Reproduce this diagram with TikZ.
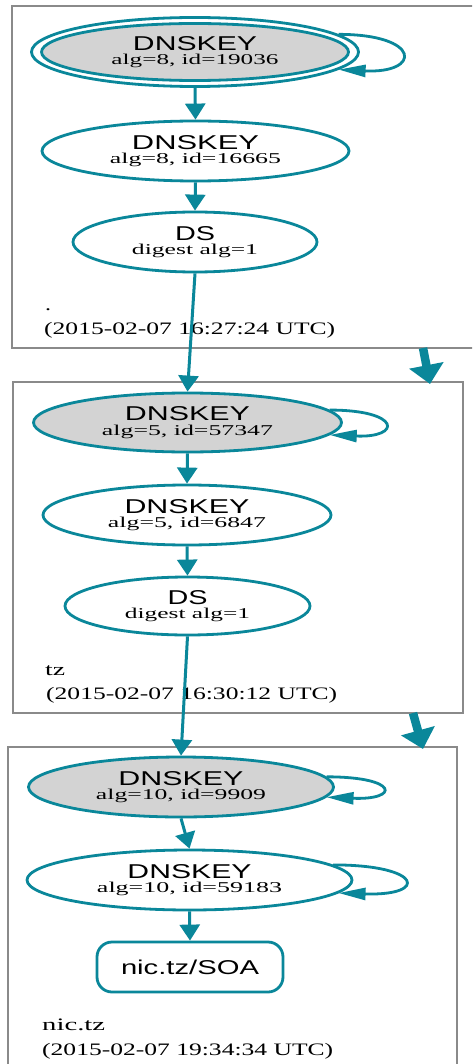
\documentclass[tikz,border=0pt]{standalone}
\usepackage{fontspec}
\usepackage{graphicx}
\setmainfont{Liberation Serif}
\setsansfont{Liberation Sans}
\usetikzlibrary{arrows.meta,shapes.geometric}
\definecolor{tealc}{HTML}{0A879A}
\definecolor{boxgray}{HTML}{8A8A8A}
\definecolor{keyfill}{HTML}{D3D3D3}
\newcommand{\hsans}[2]{\resizebox{#1pt}{\height}{\fontsize{20}{20}\sffamily #2}}
\newcommand{\hserif}[2]{\resizebox{#1pt}{\height}{\fontsize{15}{14.5}\rmfamily #2}}
\newcommand{\hlab}[2]{\resizebox{#1pt}{\height}{\fontsize{17.5}{18}\rmfamily #2}}
\tikzset{
  zonebox/.style={draw=boxgray, line width=1.4pt, rectangle, inner sep=0pt},
  rr/.style={ellipse, draw=tealc, line width=2.8pt, inner sep=0pt, align=center,
     font=\fontsize{15}{14.5}\selectfont},
  keyrr/.style={rr, fill=keyfill},
  outerrr/.style={ellipse, draw=tealc, line width=2.8pt, inner sep=0pt},
  soabox/.style={rectangle, rounded corners=15pt, draw=tealc, line width=2.8pt, inner sep=0pt},
  edgec/.style={draw=tealc, line width=3pt, -{Triangle[width=20pt,length=16pt]}},
  loopc/.style={draw=tealc, line width=2.8pt, -{Triangle[width=12pt,length=27pt]}},
  zonearrow/.style={draw=tealc, line width=8.5pt, -{Triangle[width=34pt,length=19pt]}},
  lab/.style={anchor=base west, inner sep=0pt}
}
\begin{document}
\begin{tikzpicture}[x=1pt,y=-1pt]
\path[use as bounding box, clip] (0,0) rectangle (472,1064);
\fill[white] (0,0) rectangle (472,1064);
% zone boxes
\node[zonebox, minimum width=473pt, minimum height=342pt] (z1) at (248.5,177) {};
\node[zonebox, minimum width=450pt, minimum height=331pt] (z2) at (238,547.5) {};
\node[zonebox, minimum width=449pt, minimum height=328pt] (z3) at (232.5,911) {};
% zone 1 (root)
\node[outerrr, minimum width=327pt, minimum height=69pt] (k1o) at (195,52) {};
\node[keyrr, minimum width=307pt, minimum height=57pt] (k1) at (195,52) {\hsans{124}{DNSKEY}\\\hserif{167}{alg=8, id=19036}};
\node[rr, minimum width=307pt, minimum height=60pt] (k2) at (195.5,151) {\hsans{127}{DNSKEY}\\\hserif{171}{alg=8, id=16665}};
\node[rr, minimum width=244pt, minimum height=60pt] (ds1) at (195,242) {\hsans{40}{DS}\\\hserif{126}{digest alg=1}};
\node[lab] (l1) at (45,310) {\hlab{6}{.}};
\node[lab] (t1) at (44,334) {\hlab{291}{(2015-02-07 16:27:24 UTC)}};
% zone 2 (tz)
\node[keyrr, minimum width=308pt, minimum height=59pt] (k3) at (187.5,422.5) {\hsans{125}{DNSKEY}\\\hserif{171}{alg=5, id=57347}};
\node[rr, minimum width=288pt, minimum height=60pt] (k4) at (187,515) {\hsans{125}{DNSKEY}\\\hserif{158}{alg=5, id=6847}};
\node[rr, minimum width=245pt, minimum height=58pt] (ds2) at (187.5,606) {\hsans{40}{DS}\\\hserif{125}{digest alg=1}};
\node[lab] (l2) at (45,675) {\hlab{20}{tz}};
\node[lab] (t2) at (46,699) {\hlab{291}{(2015-02-07 16:30:12 UTC)}};
% zone 3 (nic.tz)
\node[keyrr, minimum width=305pt, minimum height=60pt] (k5) at (181,787) {\hsans{125}{DNSKEY}\\\hserif{170}{alg=10, id=9909}};
\node[rr, minimum width=325pt, minimum height=60pt] (k6) at (189.5,880) {\hsans{124}{DNSKEY}\\\hserif{185}{alg=10, id=59183}};
\node[soabox, minimum width=186pt, minimum height=50pt] (soa) at (190,967) {\hsans{138}{nic.tz/SOA}};
\node[lab] (l3) at (42,1030) {\hlab{63}{nic.tz}};
\node[lab] (t3) at (42,1055) {\hlab{291}{(2015-02-07 19:34:34 UTC)}};
% edges
\draw[edgec] (k1o.south) -- (k2.north);
\draw[edgec] (k2.south) -- (ds1.north);
\draw[edgec] (ds1.south) -- (k3.north);
\draw[edgec] (k3.south) -- (k4.north);
\draw[edgec] (k4.south) -- (ds2.north);
\draw[edgec] (ds2.south) -- (k5.north);
\draw[edgec] (k5.south) -- (k6.north);
\draw[edgec] (k6.south) -- (soa.north);
% self loops
\draw[loopc] (k1o.7) .. controls +(83,0) and +(83,4) .. (k1o.-7);
\draw[loopc] (k3.5) .. controls +(72,0) and +(72,3) .. (k3.-5);
\draw[loopc] (k5.4) .. controls +(73,0) and +(73,3) .. (k5.-4);
\draw[loopc] (k6.6) .. controls +(90,0) and +(90,3) .. (k6.-5);
% inter-zone arrows
\coordinate (c1s) at (423,348);
\coordinate (c1e) at (430,384);
\coordinate (c2s) at (413,713);
\coordinate (c2e) at (423,749);
\draw[zonearrow] (c1s) -- (c1e);
\draw[zonearrow] (c2s) -- (c2e);
\end{tikzpicture}
\end{document}
